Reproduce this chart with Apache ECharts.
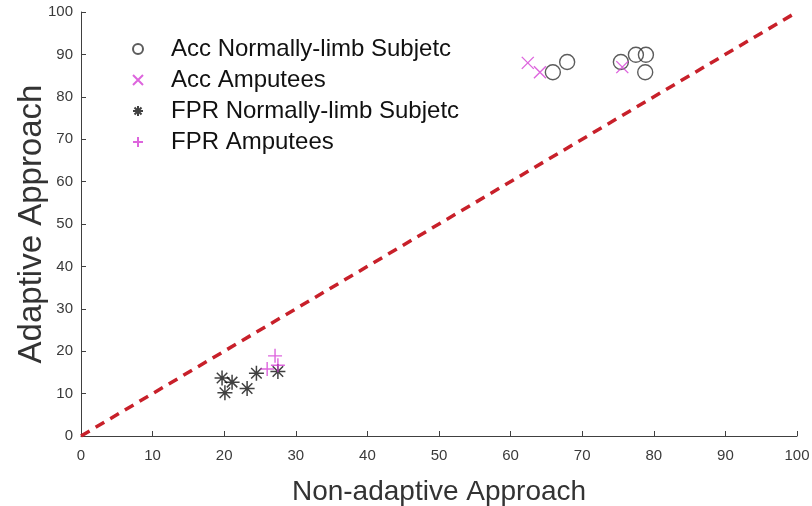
<!DOCTYPE html>
<html><head><meta charset="utf-8">
<script src="https://cdn.jsdelivr.net/npm/echarts@6/dist/echarts.min.js"></script>
<style>html,body{margin:0;padding:0;background:#fff}#c{width:812px;height:506px}</style>
</head><body><div id="c"></div>
<script>
var accNormal = [[65.9,85.8],[67.9,88.2],[75.4,88.2],[77.5,89.9],[78.9,89.9],[78.8,85.8]];
var accAmputees = [[62.4,88.0],[64.1,85.8],[75.6,87.0]];
var fprNormal = [[19.7,13.7],[21.1,12.7],[20.1,10.2],[23.2,11.2],[24.5,14.8],[27.5,15.2]];
var fprAmputees = [[27.1,18.9],[27.5,16.7],[26.0,15.8]];
var diagonal = [[0,0],[100,100]];

var MAG = '#d43fd4';
var FONT = 'Liberation Sans, Arial, sans-serif';
var xPath = 'path://M0 0L10 10M10 0L0 10';
var plusPath = 'path://M5 0L5 10M0 5L10 5';
var starPath = 'path://M5 0L5 10M0 5L10 5M1.5 1.5L8.5 8.5M8.5 1.5L1.5 8.5';

var chart = echarts.init(document.getElementById('c'), null, {renderer:'canvas'});
var axisCommon = {
  type:'value', min:0, max:100, interval:10,
  axisLine:{show:true, lineStyle:{color:'#404040', width:1}},
  axisTick:{show:true, inside:true, length:5, lineStyle:{color:'#404040'}},
  splitLine:{show:false},
  nameLocation:'middle',
  nameMoveOverlap:false
};
chart.setOption({
  animation:false,
  grid:{left:81, right:15, top:12, bottom:70, containLabel:false, outerBoundsMode:'none'},
  legend:{
    left:127, top:32, orient:'vertical', itemGap:7, itemWidth:10, itemHeight:10,
    textStyle:{color:'#111', fontFamily:FONT, fontSize:24, padding:[0,0,0,23]},
    data:['Acc Normally-limb Subjetc','Acc Amputees','FPR Normally-limb Subjetc','FPR Amputees']
  },
  xAxis:Object.assign({}, axisCommon, {name:'Non-adaptive Approach', nameGap:42,
    nameTextStyle:{color:'#333', fontFamily:FONT, fontSize:28},
    axisLabel:{color:'#3a3a3a', fontFamily:FONT, fontSize:15, margin:12}}),
  yAxis:Object.assign({}, axisCommon, {name:'Adaptive Approach', nameGap:33,
    nameTextStyle:{color:'#333', fontFamily:FONT, fontSize:33},
    axisLabel:{color:'#3a3a3a', fontFamily:FONT, fontSize:15, margin:8}}),
  series:[
    {type:'line', data:diagonal, symbol:'none', silent:true, legendHoverLink:false,
     lineStyle:{color:'#c8202a', width:3.5, type:[10,7]}, z:1},
    {name:'Acc Normally-limb Subjetc', type:'scatter', data:accNormal, symbol:'circle', symbolSize:15,
     itemStyle:{color:'rgba(0,0,0,0)', borderColor:'#333', borderWidth:1.4}, z:3},
    {name:'Acc Amputees', type:'scatter', data:accAmputees, symbol:xPath, symbolSize:12,
     itemStyle:{color:'rgba(0,0,0,0)', borderColor:MAG, borderWidth:1.4}, z:4},
    {name:'FPR Normally-limb Subjetc', type:'scatter', data:fprNormal, symbol:starPath, symbolSize:15,
     itemStyle:{color:'rgba(0,0,0,0)', borderColor:'#111', borderWidth:1.5}, z:3},
    {name:'FPR Amputees', type:'scatter', data:fprAmputees, symbol:plusPath, symbolSize:14,
     itemStyle:{color:'rgba(0,0,0,0)', borderColor:MAG, borderWidth:1.4}, z:4}
  ]
});
</script></body></html>
